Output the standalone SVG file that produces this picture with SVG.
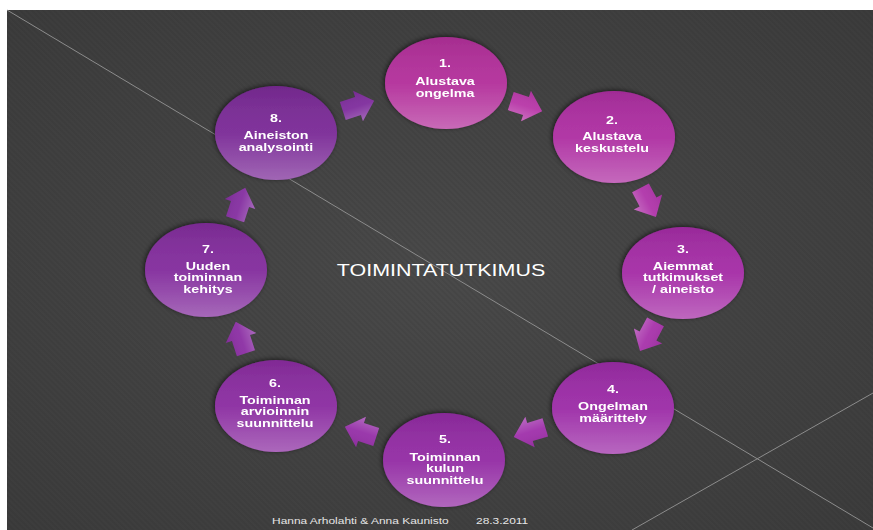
<svg xmlns="http://www.w3.org/2000/svg" width="873" height="530" viewBox="0 0 873 530">
<defs>
<style>
.lbl{font-family:"Liberation Sans",Arial,sans-serif;font-weight:bold;font-size:10px;fill:#ffffff;text-anchor:middle}
.title{font-family:"Liberation Sans",Arial,sans-serif;font-size:16.5px;fill:#ffffff;text-anchor:middle}
.foot{font-family:"Liberation Sans",Arial,sans-serif;font-size:9.2px;fill:#e6e6e6}
.gloss{fill:url(#gloss)}
.deco{stroke:#8c8c8c;stroke-width:1;fill:none}
</style>
<radialGradient id="bg" cx="0.5" cy="0.5" r="0.7">
<stop offset="0" stop-color="#4a4a4a"/>
<stop offset="1" stop-color="#3c3c3c"/>
</radialGradient>
<pattern id="hatch" width="4" height="4" patternUnits="userSpaceOnUse" patternTransform="rotate(45)">
<rect width="4" height="2" fill="#000" opacity="0.05"/>
</pattern>
<linearGradient id="gloss" x1="0" y1="0" x2="0" y2="1">
<stop offset="0" stop-color="#000" stop-opacity="0.08"/>
<stop offset="0.5" stop-color="#fff" stop-opacity="0.04"/>
<stop offset="1" stop-color="#fff" stop-opacity="0.28"/>
</linearGradient>
<filter id="sh" x="-20%" y="-20%" width="140%" height="140%">
<feGaussianBlur in="SourceAlpha" stdDeviation="2.5"/>
<feOffset dx="-1" dy="-1" result="b"/>
<feComponentTransfer><feFuncA type="linear" slope="0.6"/></feComponentTransfer>
<feMerge><feMergeNode/><feMergeNode in="SourceGraphic"/></feMerge>
</filter>
<path id="arr" d="M-16,-9.5 L0,-9.5 L0,-16 L17,0 L0,16 L0,9.5 L-16,9.5 Z"/>
</defs>
<rect x="0" y="0" width="873" height="530" fill="#ffffff"/>
<rect x="7" y="10" width="866" height="520" fill="url(#bg)"/>
<rect x="7" y="10" width="866" height="520" fill="url(#hatch)"/>
<line class="deco" x1="7" y1="10" x2="873" y2="528"/>
<line class="deco" x1="632" y1="530" x2="873" y2="393"/>

<g id="connectors">
<g transform="translate(526,106) rotate(18)"><use href="#arr" fill="#b838a8"/><use href="#arr" class="gloss"/></g>
<g transform="translate(648,202) rotate(62)"><use href="#arr" fill="#b036aa"/><use href="#arr" class="gloss"/></g>
<g transform="translate(648,336) rotate(118)"><use href="#arr" fill="#a834ab"/><use href="#arr" class="gloss"/></g>
<g transform="translate(530,432) rotate(163)"><use href="#arr" fill="#a032ab"/><use href="#arr" class="gloss"/></g>
<g transform="translate(361,432) rotate(198)"><use href="#arr" fill="#9631a8"/><use href="#arr" class="gloss"/></g>
<g transform="translate(241,338) rotate(252)"><use href="#arr" fill="#8c30a4"/><use href="#arr" class="gloss"/></g>
<g transform="translate(240,204) rotate(288)"><use href="#arr" fill="#8530a1"/><use href="#arr" class="gloss"/></g>
<g transform="translate(358,106) rotate(342)"><use href="#arr" fill="#7f2e9d"/><use href="#arr" class="gloss"/></g>
</g>

<g id="node1" filter="url(#sh)">
<ellipse cx="446" cy="83" rx="61" ry="46" fill="#b3309b"/>
<ellipse cx="446" cy="83" rx="61" ry="46" class="gloss"/>
<g transform="translate(445,0) scale(1.43,1)">
<text class="lbl" x="0" y="67">1.</text>
<text class="lbl" x="0" y="85.5">Alustava</text>
<text class="lbl" x="0" y="97">ongelma</text>
</g>
</g>

<g id="node2" filter="url(#sh)">
<ellipse cx="614" cy="137" rx="61" ry="46" fill="#ae2fa2"/>
<ellipse cx="614" cy="137" rx="61" ry="46" class="gloss"/>
<g transform="translate(612,0) scale(1.43,1)">
<text class="lbl" x="0" y="124">2.</text>
<text class="lbl" x="0" y="140.5">Alustava</text>
<text class="lbl" x="0" y="152">keskustelu</text>
</g>
</g>

<g id="node3" filter="url(#sh)">
<ellipse cx="683" cy="273" rx="61" ry="46" fill="#a52da6"/>
<ellipse cx="683" cy="273" rx="61" ry="46" class="gloss"/>
<g transform="translate(683,0) scale(1.43,1)">
<text class="lbl" x="0" y="253">3.</text>
<text class="lbl" x="0" y="270">Aiemmat</text>
<text class="lbl" x="0" y="281.5">tutkimukset</text>
<text class="lbl" x="0" y="293">/ aineisto</text>
</g>
</g>

<g id="node4" filter="url(#sh)">
<ellipse cx="613" cy="408" rx="61" ry="46" fill="#9c2ca7"/>
<ellipse cx="613" cy="408" rx="61" ry="46" class="gloss"/>
<g transform="translate(613,0) scale(1.43,1)">
<text class="lbl" x="0" y="393">4.</text>
<text class="lbl" x="0" y="410.5">Ongelman</text>
<text class="lbl" x="0" y="422">määrittely</text>
</g>
</g>

<g id="node5" filter="url(#sh)">
<ellipse cx="444" cy="460" rx="61" ry="47" fill="#932ca4"/>
<ellipse cx="444" cy="460" rx="61" ry="47" class="gloss"/>
<g transform="translate(445,0) scale(1.43,1)">
<text class="lbl" x="0" y="443">5.</text>
<text class="lbl" x="0" y="461">Toiminnan</text>
<text class="lbl" x="0" y="472.5">kulun</text>
<text class="lbl" x="0" y="484">suunnittelu</text>
</g>
</g>

<g id="node6" filter="url(#sh)">
<ellipse cx="276" cy="406" rx="61" ry="46" fill="#8b2da1"/>
<ellipse cx="276" cy="406" rx="61" ry="46" class="gloss"/>
<g transform="translate(275,0) scale(1.43,1)">
<text class="lbl" x="0" y="387">6.</text>
<text class="lbl" x="0" y="404">Toiminnan</text>
<text class="lbl" x="0" y="415.5">arvioinnin</text>
<text class="lbl" x="0" y="427">suunnittelu</text>
</g>
</g>

<g id="node7" filter="url(#sh)">
<ellipse cx="206" cy="270" rx="61" ry="47" fill="#832d9d"/>
<ellipse cx="206" cy="270" rx="61" ry="47" class="gloss"/>
<g transform="translate(208,0) scale(1.43,1)">
<text class="lbl" x="0" y="253">7.</text>
<text class="lbl" x="0" y="270">Uuden</text>
<text class="lbl" x="0" y="281.5">toiminnan</text>
<text class="lbl" x="0" y="293">kehitys</text>
</g>
</g>

<g id="node8" filter="url(#sh)">
<ellipse cx="276" cy="133" rx="61" ry="47" fill="#7b2b97"/>
<ellipse cx="276" cy="133" rx="61" ry="47" class="gloss"/>
<g transform="translate(276,0) scale(1.43,1)">
<text class="lbl" x="0" y="122">8.</text>
<text class="lbl" x="0" y="139.5">Aineiston</text>
<text class="lbl" x="0" y="151">analysointi</text>
</g>
</g>

<g id="title" transform="translate(441,0) scale(1.3,1)">
<text class="title" x="0" y="276">TOIMINTATUTKIMUS</text>
</g>

<g id="footer">
<g transform="translate(272,0) scale(1.3,1)"><text class="foot" x="0" y="524">Hanna Arholahti &amp; Anna Kaunisto</text></g>
<g transform="translate(476,0) scale(1.3,1)"><text class="foot" x="0" y="524">28.3.2011</text></g>
</g>
</svg>
